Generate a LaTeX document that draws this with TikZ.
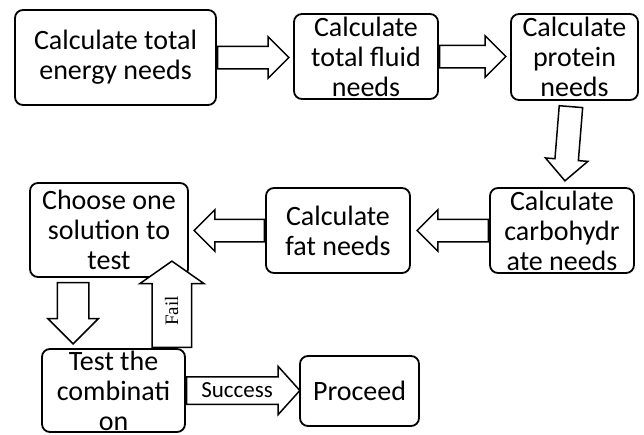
\documentclass[tikz,border=0pt]{standalone}
\usepackage{fontspec}
\setmainfont{Carlito}
\newfontfamily\failfont{Liberation Serif}
\usetikzlibrary{shapes.arrows,calc}

\begin{document}
\begin{tikzpicture}[
  x=1pt,y=-1pt,
  stepbox/.style={draw, rounded corners=8pt, line width=1.8pt, align=center, inner sep=0pt, font=\fontsize{28}{30}\selectfont},
  blockarrow/.style={single arrow, draw, line width=1.5pt, fill=white, anchor=tail, inner xsep=0pt, inner ysep=10.5pt,
    single arrow head extend=9.5pt, single arrow tip angle=90},
  textarrow/.style={blockarrow, inner ysep=0pt}
]

% Canvas: same size as the 644x434 reference
\path[use as bounding box] (0,0) rectangle (644,434);

% Steps, top row
\node[stepbox, minimum width=201pt, minimum height=95pt] (energy) at (115.5,57.5) {Calculate total\\energy needs};
\node[stepbox, minimum width=144pt, minimum height=85pt] (fluid) at (366,56.5) {Calculate\\total fluid\\needs};
\node[stepbox, minimum width=127pt, minimum height=86pt] (protein) at (574.5,57) {Calculate\\protein\\needs};

% Steps, middle row
\node[stepbox, minimum width=144pt, minimum height=85pt] (carb) at (562,230.5) {Calculate\\carbohydr\\ate needs};
\node[stepbox, minimum width=144pt, minimum height=85pt] (fat) at (338,230.5) {Calculate\\fat needs};
\node[stepbox, minimum width=158pt, minimum height=94pt] (choose) at (109,230) {Choose one\\solution to\\test};

% Steps, bottom row
\node[stepbox, minimum width=143pt, minimum height=83pt] (test) at (113.5,390.5) {Test the\\combinati\\on};
\node[stepbox, minimum width=119pt, minimum height=70pt] (proceed) at (359.5,391) {Proceed};

% Arrow ends
\coordinate[xshift=-5pt] (fluidtip) at (energy.east -| fluid.west);
\coordinate[xshift=-5pt] (proteintip) at (fluid.east -| protein.west);
\coordinate[xshift=-3.5pt, yshift=-5pt] (proteintail) at (protein.south);
\coordinate[xshift=3pt, yshift=7pt] (carbtip) at (carb.north);
\coordinate[xshift=7pt] (fattip) at (carb.west -| fat.east);
\coordinate[xshift=6pt] (choosetip) at (fat.west -| choose.east);
\coordinate[xshift=44pt, yshift=-4pt] (downtail) at (choose.south west);
\coordinate[xshift=32pt, yshift=5pt] (downtip) at (test.north west);
\coordinate[xshift=-14pt] (failtail) at (test.north east);
\coordinate[xshift=-17pt, yshift=16pt] (failtip) at (choose.south east);
\coordinate (successtip) at (test.east -| proceed.west);

% Block arrows
\path let \p1=($(fluidtip)-(energy.east)$), \n1={veclen(\x1,\y1)}, \n2={atan2(\y1,\x1)} in
  node[blockarrow, minimum height=\n1, rotate=\n2] (a1) at (energy.east) {};
\path let \p1=($(proteintip)-(fluid.east)$), \n1={veclen(\x1,\y1)}, \n2={atan2(\y1,\x1)} in
  node[blockarrow, minimum height=\n1, rotate=\n2] (a2) at (fluid.east) {};
\path let \p1=($(carbtip)-(proteintail)$), \n1={veclen(\x1,\y1)}, \n2={atan2(\y1,\x1)} in
  node[blockarrow, minimum height=\n1, rotate=\n2, inner ysep=11pt] (a3) at (proteintail) {};
\path let \p1=($(fattip)-(carb.west)$), \n1={veclen(\x1,\y1)}, \n2={atan2(\y1,\x1)} in
  node[blockarrow, minimum height=\n1, rotate=\n2] (a4) at (carb.west) {};
\path let \p1=($(choosetip)-(fat.west)$), \n1={veclen(\x1,\y1)}, \n2={atan2(\y1,\x1)} in
  node[blockarrow, minimum height=\n1, rotate=\n2] (a5) at (fat.west) {};
\path let \p1=($(downtip)-(downtail)$), \n1={veclen(\x1,\y1)}, \n2={atan2(\y1,\x1)} in
  node[blockarrow, minimum height=\n1, rotate=\n2, inner ysep=15pt] (a6) at (downtail) {};

% Fail / Success
\path let \p1=($(failtip)-(failtail)$), \n1={veclen(\x1,\y1)}, \n2={atan2(\y1,\x1)} in
  node[textarrow, minimum height=\n1, rotate=\n2, text height=25.25pt, text depth=12.75pt,
    single arrow head extend=12.5pt, single arrow tip angle=110, font=\failfont\fontsize{19}{19}\selectfont] (fail) at (failtail) {Fail};
\path let \p1=($(successtip)-(test.east)$), \n1={veclen(\x1,\y1)}, \n2={atan2(\y1,\x1)} in
  node[textarrow, minimum height=\n1, rotate=\n2, text height=20pt, text depth=6pt,
    single arrow head extend=10.5pt, single arrow tip angle=96, font=\fontsize{23}{23}\selectfont] (success) at (test.east) {Success};

\end{tikzpicture}
\end{document}
